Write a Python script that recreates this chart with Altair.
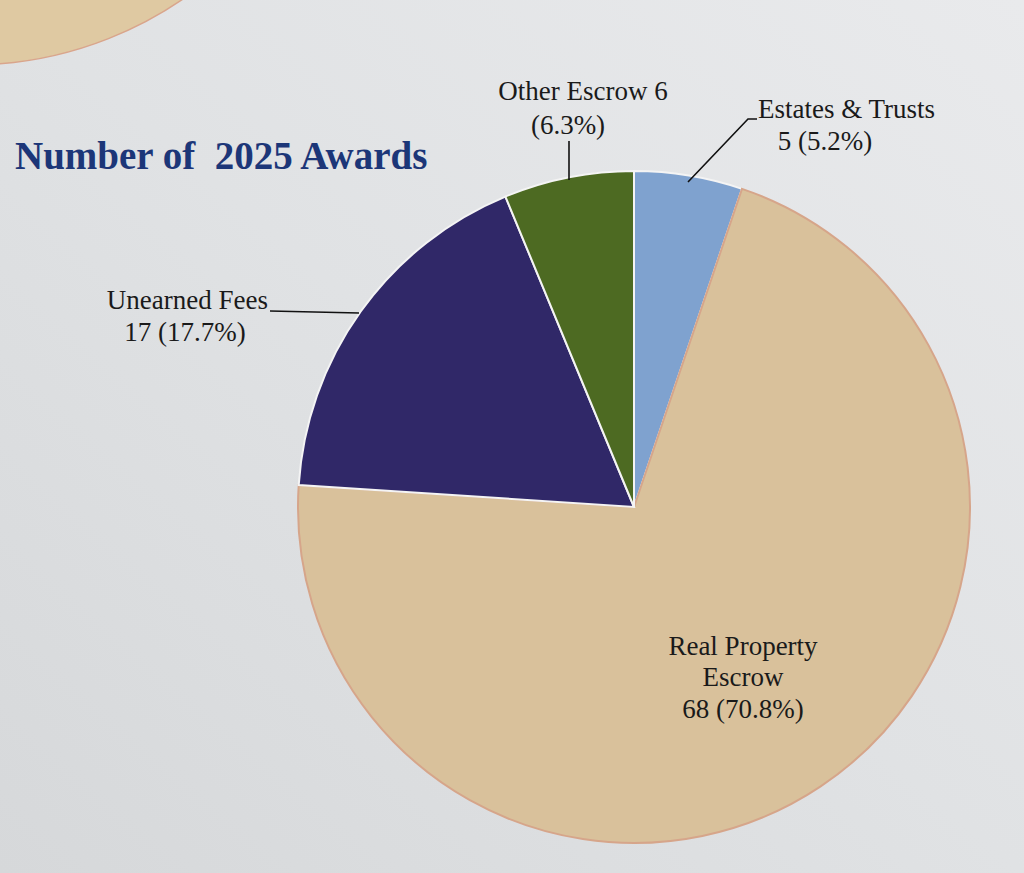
import altair as alt
import pandas as pd

# Award categories, listed clockwise from 12 o'clock
categories = ["Estates & Trusts", "Real Property Escrow", "Unearned Fees", "Other Escrow"]
counts = [5, 68, 17, 6]
percents = ["5.2%", "70.8%", "17.7%", "6.3%"]
colors = ["#7fa2cf", "#d9c19b", "#302868", "#4d6a22"]

# Callout text lines per category
label_lines = {
    "Estates & Trusts": ["Estates & Trusts", "5 (5.2%)"],
    "Real Property Escrow": ["Real Property", "Escrow", "68 (70.8%)"],
    "Unearned Fees": ["Unearned Fees", "17 (17.7%)"],
    "Other Escrow": ["Other Escrow 6", "(6.3%)"],
}

# Layout (pixels): callout anchors and leader-line paths
label_pos = {
    "Estates & Trusts": [(758, 110, "left"), (825, 142, "center")],
    "Real Property Escrow": [(743, 647, "center"), (743, 678, "center"), (743, 710, "center")],
    "Unearned Fees": [(268, 301, "right"), (185, 333, "center")],
    "Other Escrow": [(583, 92, "center"), (568, 126, "center")],
}
leaders = {
    "Estates & Trusts": [(688, 182), (748, 119), (757, 119)],
    "Unearned Fees": [(270, 311), (359, 313)],
    "Other Escrow": [(569, 141), (569, 180)],
}

W, H = 1024, 873
CX, CY, R = 634, 507, 336

pie_df = pd.DataFrame({
    "category": categories,
    "count": counts,
    "percent": percents,
    "order": list(range(len(categories))),
})

text_rows = []
for cat, lines in label_lines.items():
    for line, (x, y, a) in zip(lines, label_pos[cat]):
        text_rows.append({"category": cat, "line": line, "px": x, "py": y, "align": a})
text_df = pd.DataFrame(text_rows)

line_rows = []
for cat, pts in leaders.items():
    for i, (x, y) in enumerate(pts):
        line_rows.append({"category": cat, "i": i, "px": x, "py": y})
line_df = pd.DataFrame(line_rows)

xs = alt.Scale(domain=[0, W], range=[0, W])
ys = alt.Scale(domain=[0, H], range=[0, H])

# Paper background with a soft light falloff
paper = alt.Chart(pd.DataFrame({"a": [0]})).mark_rect(
    color=alt.LinearGradient(
        gradient="linear", x1=1, y1=0, x2=0, y2=1,
        stops=[alt.GradientStop(color="#e9eaec", offset=0),
               alt.GradientStop(color="#e0e2e4", offset=0.5),
               alt.GradientStop(color="#d6d8da", offset=1)],
    )
).encode(x=alt.value(0), x2=alt.value(W), y=alt.value(0), y2=alt.value(H))

# Edge of the neighbouring chart peeking in at the top-left
neighbour = alt.Chart(pd.DataFrame({"v": [1]})).mark_arc(
    radius=376, theta=0, theta2=6.2832, fill="#dfc9a2", stroke="#d9a58c", strokeWidth=1.5
).encode(x=alt.value(-30), y=alt.value(-311))

pie = alt.Chart(pie_df).mark_arc(radius=R, strokeWidth=2).encode(
    theta=alt.Theta("count:Q", stack=True),
    order=alt.Order("order:Q", sort="ascending"),
    color=alt.Color("category:N", scale=alt.Scale(domain=categories, range=colors), legend=None),
    stroke=alt.condition(alt.datum.category == "Real Property Escrow",
                         alt.value("#d6a58a"), alt.value("#f4f4f4")),
    x=alt.value(CX), y=alt.value(CY),
)

leader_lines = alt.Chart(line_df).mark_line(color="#111111", strokeWidth=1.6).encode(
    x=alt.X("px:Q", scale=xs, axis=None),
    y=alt.Y("py:Q", scale=ys, axis=None),
    detail="category:N",
    order="i:Q",
)

def text_layer(align):
    return alt.Chart(text_df[text_df["align"] == align]).mark_text(
        font="Liberation Serif", fontSize=27, color="#1a1a1a", align=align, baseline="middle"
    ).encode(
        x=alt.X("px:Q", scale=xs, axis=None),
        y=alt.Y("py:Q", scale=ys, axis=None),
        text="line:N",
    )

title = alt.Chart(pd.DataFrame({"t": ["Number of\u00a0 2025 Awards"]})).mark_text(
    font="Liberation Serif", fontSize=39, fontWeight="bold", color="#1c3678",
    align="left", baseline="middle"
).encode(x=alt.value(15), y=alt.value(157), text="t:N")

chart = alt.layer(
    paper, neighbour, pie, leader_lines,
    text_layer("left"), text_layer("center"), text_layer("right"), title,
).properties(
    width=W, height=H, padding=0, autosize=alt.AutoSizeParams(type="none"),
).configure_view(stroke=None).configure(background="#e2e4e6")

chart.save("out.html", embed_options={"renderer": "svg", "actions": False})
